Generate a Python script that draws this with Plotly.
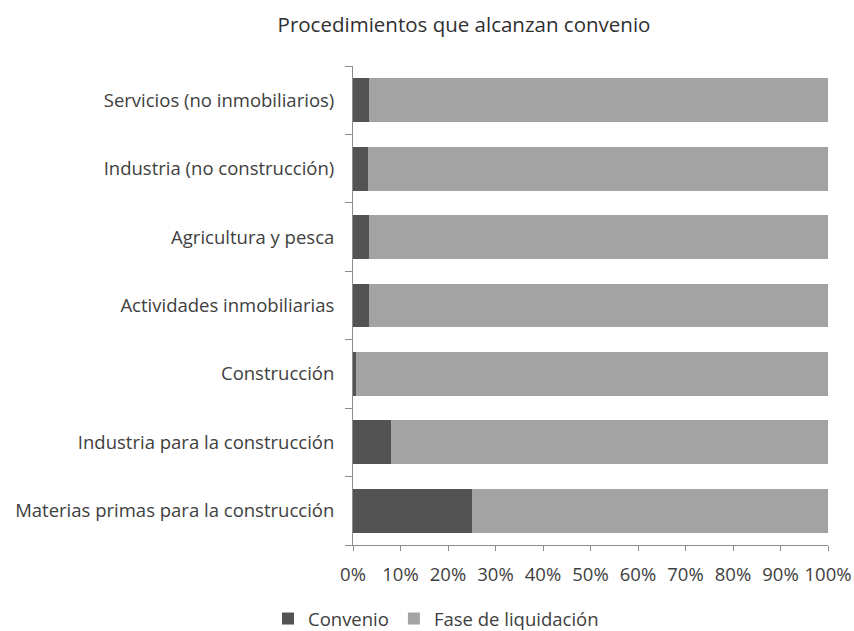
import plotly.graph_objects as go

# Sectores (de abajo arriba, tal como se dibujan en el eje vertical)
categorias = [
    "Materias primas para la construcción",
    "Industria para la construcción",
    "Construcción",
    "Actividades inmobiliarias",
    "Agricultura y pesca",
    "Industria (no construcción)",
    "Servicios (no inmobiliarios)",
]
# Porcentaje de procedimientos que alcanzan convenio
convenio = [25.0, 8.0, 0.6, 3.4, 3.4, 3.1, 3.4]
# El resto termina en fase de liquidación
liquidacion = [round(100 - v, 1) for v in convenio]

ticks_x = [0, 10, 20, 30, 40, 50, 60, 70, 80, 90, 100]
etiquetas_x = [f"{t}%" for t in ticks_x]

fuente = "Open Sans"
gris_texto = "#404040"
tam = 18.5

fig = go.Figure()
fig.add_trace(go.Bar(
    y=categorias, x=convenio, orientation="h", name="Convenio",
    marker=dict(color="#535353", line=dict(width=0)),
))
fig.add_trace(go.Bar(
    y=categorias, x=liquidacion, orientation="h", name="Fase de liquidación",
    marker=dict(color="#a3a3a3", line=dict(width=0)),
))

fig.update_layout(
    barmode="stack",
    bargap=0.36,
    width=854, height=631,
    margin=dict(l=353, r=26, t=66, b=86, autoexpand=False),
    paper_bgcolor="white", plot_bgcolor="white",
    font=dict(family=fuente, size=tam, color=gris_texto),
    title=dict(
        text="Procedimientos que alcanzan convenio",
        x=464 / 854, xanchor="center", xref="container",
        y=1 - 25 / 631, yanchor="middle", yref="container",
        font=dict(family=fuente, size=20.5, color="#303030"),
    ),
    legend=dict(
        orientation="h", x=(436 - 353) / 475, xanchor="center",
        y=(545 - 619) / 479, yanchor="middle",
        font=dict(family=fuente, size=tam, color=gris_texto),
        itemwidth=30, traceorder="normal", tracegroupgap=0,
    ),
    showlegend=True,
)
fig.update_xaxes(
    range=[0, 100], tickvals=ticks_x, ticktext=etiquetas_x,
    showgrid=False, zeroline=False, automargin=False,
    showline=True, linecolor="#8c8c8c", linewidth=1,
    ticks="outside", ticklen=5, tickcolor="#8c8c8c",
    ticklabelstandoff=8,
    tickfont=dict(size=tam, color=gris_texto),
)
fig.update_yaxes(
    showgrid=False, zeroline=False, automargin=False,
    showline=True, linecolor="#8c8c8c", linewidth=1,
    ticks="outside", ticklen=7, tickcolor="#8c8c8c",
    tickson="boundaries", ticklabelstandoff=14,
    tickfont=dict(size=tam, color=gris_texto),
)

fig.write_html("out.html")
